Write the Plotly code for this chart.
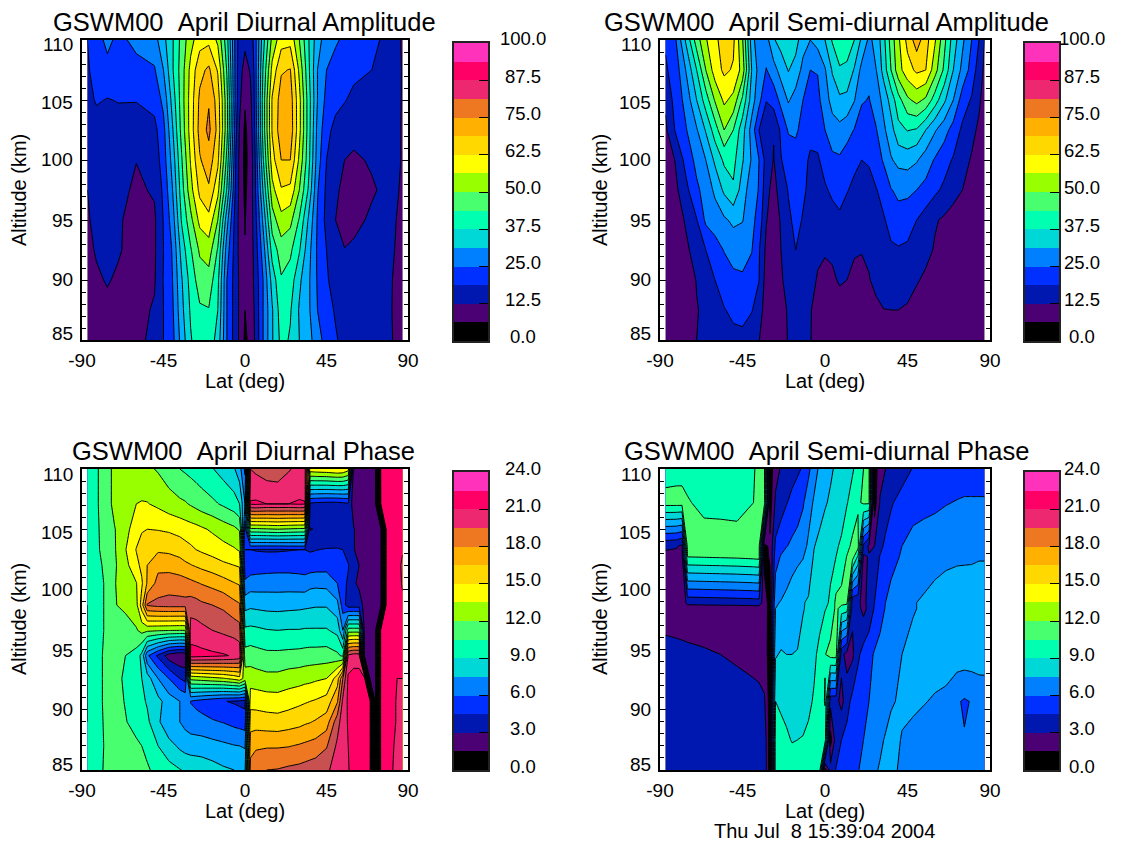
import numpy as np
import plotly.graph_objects as go

# Contour band colours used in the panels (18 bands); the colour bar omits two of them.
BAND_COLORS = ["#000000", "#4b0073", "#0018b0", "#0030ff", "#0080ff", "#00b0ff", "#00d8d8", "#00ffb0", "#48ff70",
               "#98ff00", "#ffff00", "#ffd800", "#ffb000", "#ee7722", "#c85050", "#ee2870", "#ff0066", "#ff33bb"]
BAR_COLORS = ["#000000", "#4b0073", "#0018b0", "#0030ff", "#0080ff", "#00d8d8", "#00ffb0", "#48ff70",
              "#98ff00", "#ffff00", "#ffd800", "#ffb000", "#ee7722", "#ee2870", "#ff0066", "#ff33bb"]
AMP_TICKS = [0.0, 12.5, 25.0, 37.5, 50.0, 62.5, 75.0, 87.5, 100.0]
PHASE_TICKS = [0.0, 3.0, 6.0, 9.0, 12.0, 15.0, 18.0, 21.0, 24.0]
LAT_TICKS = [-90, -45, 0, 45, 90]
LAT_LABELS = ["-90", "-45", "0", "45", "90"]
ALT_TICKS = [85, 90, 95, 100, 105, 110]
ALT_LABEL_SHIFT = [6, 0, -1, 0, -3, -5]
# values are read in contour-interval units; one interval is AMP_STEP % or PHASE_STEP hours
AMP_STEP = 100 / 18
PHASE_STEP = 24 / 18

da_lat = [-87,-82,-76,-70,-60,-50,-45,-40,-35,-30,-25,-20,-15,-10,-5,-3,0,3,5,10,15,20,25,30,35,40,45,50,55,60,70,80,87]
da_alt = [85,87.5,90,92.5,95,97.5,100,102.5,105,107.5,110]
da_rows = [
 [1.1,1.2,1.3,1.45,1.75,2.25,3,3.7,5.4,6.9,7.7,7.65,6.6,4,2.4,1.85,.8,1.3,1.9,4,5.9,7.3,6.9,6,5.4,4.4,3.6,3.1,2.7,2.55,2.4,2.15,1.45],
 [1.3,1.5,1.75,1.7,1.7,2.1,3,3.85,5.7,7.15,7.85,7.95,7,4,2.4,1.85,1,1.45,2,4,5.9,7.55,7.1,5.9,5.2,4,3.35,2.9,2.55,2.4,2.3,2.1,1.5],
 [1.6,1.85,2.08,1.85,1.6,1.9,3.05,4,5.9,7.4,8.5,8.6,7.25,4,2.4,1.85,1.05,1.5,2.1,4,6.4,7.9,7.55,6.2,5.2,3.9,3.1,2.65,2.3,2.25,2.25,2.1,1.6],
 [1.75,2.1,2.3,2.1,1.6,1.85,3,4.1,6.4,7.9,9.15,9.5,7.9,4.5,2.4,1.75,1.05,1.6,2.15,4.5,7.4,8.5,8.2,7.1,5.4,3.85,3,2.25,2.02,2.15,2.25,2.15,1.75],
 [1.9,2.25,2.4,2.1,1.7,1.85,3.05,4.5,7.1,8.7,10.3,10.7,9,5.4,2.4,1.75,.95,1.6,2.25,5.2,8.5,9.65,9.3,7.9,5.9,3.9,2.7,2,1.75,1.75,2.15,2.15,1.85],
 [2,2.3,2.4,2.25,1.85,2.1,3.2,5,7.55,9.65,11.25,11.85,10.3,6.9,2.7,1.75,.8,1.5,2.4,6.1,9.65,10.9,10.75,9,6.9,4.1,2.8,2.1,1.85,1.7,1.9,2.25,1.9],
 [2.1,2.3,2.5,2.3,2.02,2.4,3.5,5.4,7.9,10.1,11.9,12.55,11.25,7.7,2.9,1.75,.7,1.45,2.4,6.9,10.6,12,12,9.8,7.4,4.5,3,2.4,2,1.85,2.1,2.3,1.95],
 [2.15,2.55,2.8,2.55,2.4,2.7,3.7,5.9,8.35,10.45,12.35,13.25,11.7,8.35,3.2,1.9,.8,1.5,2.7,7.4,11.1,12.6,12.6,10.3,7.55,4.7,3.3,2.7,2.5,2.3,2.2,2.3,1.95],
 [2.7,3.1,2.95,3.05,3.05,3.35,4.25,6.4,8.5,10.45,12.2,12.9,11.55,8.35,3.5,2.25,1.1,1.75,2.9,7.4,11.1,12.45,12.5,10.3,7.55,5,3.7,3.3,3.05,2.8,2.5,2.4,1.95],
 [2.9,3.35,3.7,3.6,3.7,3.9,5,6.9,8.5,10.3,11.7,12.2,10.9,7.9,3.5,2.4,1.6,2.1,3.05,7.1,10.3,11.9,12.05,9.8,7.25,5,4,3.7,3.45,3.2,3,2.5,1.95],
 [3,3.6,4.25,3.75,4.25,4.6,5.7,6.9,8.35,9.65,10.6,10.75,9.8,7.4,3.5,2.55,2.25,2.5,3.2,6.6,9.3,10.6,10.7,9,7.1,5.4,4.5,4.1,3.85,3.6,3.35,2.55,1.9],
]

sa_lat = [-87,-82,-76,-70,-65,-60,-55,-50,-45,-40,-36,-32,-28,-24,-20,-16,-12,-8,-4,0,4,8,12,16,20,24,28,32,36,40,45,50,55,60,65,70,75,80,84,87]
sa_alt = [85,87.5,90,92.5,95,97.5,100,102.5,105,107.5,110]
sa_rows = [
 [1.1,1.25,1.5,2,2.1,2.35,2.55,2.75,2.8,2.5,2.05,1.2,1.15,1.4,2.1,2.25,2.2,2.05,1.55,1.2,1.2,1.25,1.2,1.2,1.25,1.35,1.5,1.6,1.6,1.6,1.5,1.4,1.3,1.2,1.15,1.1,1.1,1.1,1.05,1.05],
 [1.15,1.3,1.6,1.95,2.2,2.6,2.95,3.2,3.25,3.05,2.6,1.35,1.2,1.5,2.15,2.4,2.25,2.05,1.7,1.4,1.45,1.6,1.5,1.4,1.4,1.55,1.8,1.98,2,2,1.85,1.55,1.35,1.25,1.15,1.1,1.1,1.1,1.05,1.05],
 [1.2,1.35,1.45,2.05,2.45,3,3.45,3.75,3.85,3.55,3.02,1.55,1.25,1.9,2.3,2.65,2.45,2.2,1.95,1.7,1.85,2.1,2,1.75,1.7,1.95,2.25,2.5,2.65,2.65,2.5,2.1,1.8,1.55,1.4,1.25,1.15,1.1,1.05,1.05],
 [1.2,1.35,1.8,2.4,3,3.55,4.05,4.4,4.4,4.05,3.1,1.75,1.3,2,2.5,3,2.7,2.3,2.1,2.1,2.15,2.2,2.15,2.1,2.05,2.15,2.35,2.6,2.85,2.9,2.8,2.55,2.3,1.9,1.7,1.45,1.3,1.15,1.1,1.05],
 [1.25,1.45,2.1,2.95,4.2,4.5,4.85,5.2,5.05,4.3,3.6,2.05,1.5,2.1,2.85,3.2,2.95,2.5,2.4,2.5,2.7,2.8,2.6,2.4,2.3,2.4,2.6,2.9,3.35,3.65,3.5,3,2.5,2.1,1.85,1.6,1.45,1.3,1.15,1.1],
 [1.3,1.7,2.7,3.8,4.4,5.2,6.2,6.85,5.5,4.4,3.95,2.3,1.65,2.45,3.05,3.4,3.1,2.85,2.75,2.9,3.15,3.4,3.05,2.8,2.6,2.65,2.95,3.4,3.95,4.2,4.2,4,3.7,3.2,2.8,2.35,2,1.65,1.3,1.1],
 [1.5,2,3.3,4.3,5,6.2,7.2,7.3,6.1,4.9,4,2.6,1.95,2.95,3.4,3.6,3.2,2.9,2.9,3.3,3.8,3.85,3.5,3.2,3,3.1,3.6,4.1,4.9,5.3,5.4,5.1,4.5,3.9,3.4,2.9,2.4,1.9,1.5,1.1],
 [1.8,3,3.9,4.9,6.1,7.5,9,8,6.4,4.6,3,2.2,2.05,3.2,4.1,4.15,3.7,3.2,3.3,4,4.5,4.7,4.4,3.95,3.5,3.6,3.95,4.8,5.6,6.7,7.05,6.9,6,5.1,4.4,3.6,2.8,2.3,1.8,1.2],
 [2.2,3.3,4.3,6,7.5,9.1,10.2,9.7,7.8,5.5,4.3,3.05,3.4,4.3,5.1,4.6,4,3.6,3.75,4.5,5.4,5.8,5.7,5.05,4.1,3.95,4.5,5.3,6.4,7.6,8.8,9.3,8.8,7.5,6.2,5,3.5,2.9,2.2,1.5],
 [2.9,3.3,5,7,9,10.5,11.2,10.9,9.6,6,4.6,3.95,4.6,5.4,6.05,5.6,4.7,4,4.05,4.9,6.1,6.9,6.8,5.9,4.7,4.3,5,6.4,8,9.6,10.6,11.2,11,9.4,7.8,6,4.7,3.6,2.5,1.8],
 [3.1,3.7,6.1,8.5,9.9,10.75,11.5,11.2,9.1,5.5,4.2,4.6,5.9,6.4,6.95,6.4,5.4,5,5.4,6,7.1,7.6,7.5,7,5.8,4.8,5.3,6.7,8.4,9.8,11.3,12.5,11.4,10.1,8.3,6.5,5.2,4,3,2],
]

dp_lat = [-87,-84,-78,-72,-66,-60,-57,-54,-48,-42,-36,-33,-30,-27,-24,-18,-12,-6,-3,0,3,6,12,18,24,30,33,36,39,45,51,54,57,60,63,66,69,72,75,78,81,84,87]
dp_alt = [85,87,89,90.7,92.6,94.5,96.6,98.7,100.5,102,103.3,105,107.1,110]
dp_rows = [
 [7.2,7.4,8.05,8.3,8.35,8.3,8.2,8.1,7.75,7.35,7.05,6.9,6.8,6.7,6.6,6.4,6.15,6,5.9,5.8,13.45,13.7,14,14.05,14.2,14.3,14.4,14.5,14.6,14.9,15.25,15.5,15.95,16.3,16.5,16.6,16.6,.9,16.6,16.4,16.1,15.6,15.2],
 [7.2,7.3,8,8.2,8.3,8.15,8,7.8,7,6.4,5.8,5.6,5.5,5.5,5.5,5.35,5.2,5.05,5,4.9,12.55,12.85,12.9,12.9,12.95,13.1,13.2,13.3,13.4,13.9,15.2,15.6,16,16.3,16.5,16.6,16.6,1,16.6,16.4,16.2,15.7,15.3],
 [7,7.3,8.05,8.2,8.05,7.7,7.4,7.2,6.2,5.1,5,4.7,4.5,4.4,4.3,4.1,3.95,3.7,3.6,3.5,11.6,11.55,11.45,11.4,11.55,11.7,11.85,11.95,12.1,12.5,14.6,15.5,16.1,16.4,16.5,16.6,16.6,1.2,16.6,16.5,16.3,15.9,15.5],
 [7,7.3,8.1,8.3,7.95,7.5,7.2,6.9,6.3,5.5,5,4.8,3.95,3.75,3.6,3.3,3.05,2.9,2.8,2.7,10.6,10.6,10.5,10.45,10.6,10.8,10.9,11,11.1,11.4,12.9,15.2,16.2,16.4,16.5,16.6,16.6,1.5,16.6,16.5,16.3,15.9,15.6],
 [7,7.3,8.1,8.4,7.8,7.4,7,6.5,5,4,3,2.7,9.3,9.4,9.5,9.7,9.9,10.3,10.6,9.6,9.55,9.45,9.3,9.3,9.5,9.6,9.7,9.75,9.85,10,11.5,14,16.2,16.4,16.4,16.5,1.7,1.6,16.5,16.5,16.3,16,16],
 [7,7.3,8.1,8.5,8,7.6,6.7,4.2,2.8,1.5,1.1,1.2,16.4,16.35,16.3,16.2,16.1,15.9,15.7,8.4,8.5,8.4,8.25,8.25,8.3,8.35,8.4,8.45,8.45,8.5,8.2,7.8,15.2,15.5,15.5,1.7,1.6,1.6,16.5,16.5,16.3,16.05,16.05],
 [7,7.3,8,8.6,8.6,8.9,9.3,9.2,9.1,9.05,9,9,15.5,15.45,15.3,15,14.8,14.6,14.4,7.2,7.25,7.2,7.05,7,7.05,7.05,7.1,7.1,7.1,7.1,6.7,5,8.5,8.5,8.5,1.7,1.6,1.6,16.5,16.5,16.3,16.05,16.05],
 [7,7.3,8,8.95,9.2,9.7,11.5,14.1,14.3,14.35,14.35,14.35,14.5,14.4,14.2,14,13.8,13.3,13.1,5.65,5.8,5.75,5.67,5.65,5.7,5.75,5.8,5.85,5.9,5.9,5.3,3.5,2.5,2.5,2.5,1.7,1.6,1.6,1.5,16.5,16.4,16.1,16.1],
 [7.2,7.4,8,8.95,9.45,9.95,10.85,12.1,13.4,13.6,13.5,13.4,13.25,13.1,12.95,12.7,12.4,12.05,11.9,4.2,4.5,4.5,4.55,4.55,4.55,4.5,4.45,4.7,4.75,4.7,4,3.2,2.9,2.15,1.8,1.6,1.6,1.6,1.5,16.5,16.4,16.2,15.95],
 [7.2,7.5,8.1,8.85,9.7,10.7,11.25,12,12.7,12.6,12.4,12.2,12.05,11.9,11.75,11.5,11.2,11,10.9,3.3,3.4,3.5,3.55,3.6,3.6,3.55,3.5,3.5,3.55,3.6,3.5,3.4,3.05,2.45,2,1.65,1.6,1.55,1.5,16.4,16.4,16.2,15.9],
 [7.3,7.6,8.25,8.9,9.95,11.05,11.45,11.7,11.85,11.8,11.6,11.4,11.2,11,10.85,10.6,10.35,10.1,9.9,3,3,2.95,2.9,2.9,2.95,3,3,2.9,2.97,3.05,3.05,3,2.65,2.05,1.7,1.6,1.6,1.55,1.5,16.4,16.4,16.2,16.05],
 [7.4,7.6,8.3,8.95,9.7,10.5,10.9,11,10.95,10.85,10.65,10.5,10.4,10.3,10.15,9.85,9.5,9.2,8.9,3.5,8.8,8.8,8.9,9,8.9,8.8,8.8,1.95,2.05,2.25,2.4,2.3,2.15,2.05,1.7,1.6,1.6,1.55,1.5,16.4,16.4,16.2,16.05],
 [7.4,7.7,8.3,9.3,9.75,10,10.05,10.05,9.8,9.45,9.2,9.1,8.9,8.7,8.5,8.2,7.85,7.45,7,5,16.1,16.15,16,16,16,16.1,16.05,2.8,2.7,2.6,2.6,2.7,2.85,1.5,1.5,1.5,1.5,1.5,16,16.3,16.4,16.2,16.05],
 [7.4,7.7,8.3,9.3,9.5,9.6,9.5,9.2,8.9,8.45,8,7.85,7.7,7.55,7.4,7.05,6.6,6.1,5.4,3.8,15,14.8,14.5,14.4,14.9,15.3,15.4,10.6,10.7,10.8,11,10.9,10.4,1.5,1.5,1.5,1.5,1.5,16.3,16.4,16.4,16.2,16.05],
]

sp_lat = [-87,-81,-78,-75,-66,-57,-48,-39,-36,-33,-30,-27,-24,-21,-18,-15,-12,-9,-6,-3,0,3,6,9,12,15,18,21,24,27,30,33,36,42,48,54,60,66,72,76,80,84,87]
sp_alt = [85,87.5,90.7,94.6,98.4,98.9,102.7,103.6,107.2,110]
sp_rows = [
 [2.75,2.75,2.75,2.75,2.75,2.75,2.75,2.75,2.8,2.8,.4,7.5,7.5,7.5,7.45,7.4,7.4,7.4,7.5,7.6,.5,2.4,3.05,3.25,3.45,3.7,3.95,4.25,4.5,4.85,5.1,5.3,5.2,4.85,4.6,4.4,4.3,4.25,4.2,4.2,4.2,4.2,4.2],
 [2.7,2.7,2.7,2.7,2.7,2.7,2.7,2.7,2.7,2.7,.4,7.4,7.3,7.15,6.95,7,7.05,7.2,7.35,7.5,7.6,.6,2.5,3,3.35,3.6,3.8,4,4.2,4.5,4.8,5.1,5.3,4.95,4.7,4.55,4.4,4.3,4.15,4.05,4.15,4.25,4.3],
 [2.55,2.55,2.55,2.5,2.5,2.5,2.45,2.35,2.3,2.1,.5,7,6.85,6.7,6.6,6.55,6.6,6.8,7.1,7.6,8.05,2.3,2.3,1.7,2.6,3.3,3.65,3.85,4,4.15,4.35,4.55,4.9,5.15,5.2,5.05,4.9,4.75,4.1,3.9,4.05,4.35,4.5],
 [2.4,2.3,2.25,2.2,2.1,2,1.85,1.65,1.55,1.5,.5,5.9,6.1,6,6,6.05,6.3,6.6,6.8,7.25,7.95,8.4,8.45,2.3,1.6,1.8,2.8,3.4,3.7,4.1,4.3,4.5,4.7,5,5.2,5.35,5.45,5.5,5.55,5.55,5.55,5.5,5.4],
 [1.45,1.45,1.45,1.45,1.45,1.45,1.45,1.5,1.5,1.45,.6,5,5.15,5.25,5.45,5.6,5.95,6.15,6.45,6.65,6.95,7.2,8.25,7.6,7.4,2.2,2.3,1.7,2.3,3.1,3.65,4.05,4.35,4.75,4.95,5.1,5.25,5.35,5.4,5.45,5.5,5.5,5.5],
 [1.4,1.35,1.3,2.3,2.35,2.4,2.45,2.5,2.55,1.45,.6,4.9,5.05,5.2,5.4,5.55,5.95,6.1,6.4,6.6,6.85,7.1,8.25,8.3,8.2,2.2,2.2,1.7,2.4,3,3.6,4,4.3,4.7,4.95,5.1,5.25,5.35,5.4,5.45,5.5,5.5,5.5],
 [1.7,1.65,1.6,8,8.05,8.1,8.15,8.25,8.3,.7,1.1,3.5,4.1,4.5,4.7,4.85,4.95,5.4,6.1,6.4,6.6,6.85,7,7.5,8.05,8.4,6.8,1.75,2.1,2.5,3.05,3.4,3.7,4.1,4.45,4.6,4.75,4.85,4.9,4.9,4.9,4.95,4.95],
 [2.2,2.1,1.8,8.3,8.55,8.65,8.6,8.4,8.3,.7,1.2,3.2,3.6,3.95,4.2,4.4,4.6,5.2,5.95,6.3,6.55,6.75,6.92,7.1,7.75,8.2,8.4,2.8,1.8,2,2.75,3.2,3.45,4,4.35,4.5,4.6,4.7,4.75,4.8,4.8,4.8,4.85],
 [8.4,8.4,8.4,8.1,7.7,7.6,7.55,8,8.3,8.2,.5,2.2,2.6,2.95,3.25,3.5,3.9,4.5,5.15,5.5,5.9,6.15,6.4,6.7,6.95,7.4,7.85,8.15,8.15,.5,2.1,2.5,2.9,3.35,3.6,3.7,3.8,3.95,4.05,4.1,4.1,4.1,4.1],
 [7.5,7.6,7.6,7.6,7.7,7.7,7.7,7.9,8.3,8,.5,1.6,2.1,2.4,2.65,2.85,3.1,3.8,4.5,5.2,5.6,5.85,6.15,6.45,6.65,6.9,7.35,8,8.2,.5,1.6,2,2.2,2.6,3.05,3.3,3.4,3.5,3.5,3.55,3.55,3.55,3.55],
]

PANELS = [
    dict(name="GSWM00\u00a0\u00a0April Diurnal Amplitude", lat=da_lat, alt=da_alt, rows=da_rows, step=AMP_STEP, ticks=AMP_TICKS, fmax=100.0),
    dict(name="GSWM00\u00a0\u00a0April Semi-diurnal Amplitude", lat=sa_lat, alt=sa_alt, rows=sa_rows, step=AMP_STEP, ticks=AMP_TICKS, fmax=100.0),
    dict(name="GSWM00\u00a0\u00a0April Diurnal Phase", lat=dp_lat, alt=dp_alt, rows=dp_rows, step=PHASE_STEP, ticks=PHASE_TICKS, fmax=24.0),
    dict(name="GSWM00\u00a0\u00a0April Semi-diurnal Phase", lat=sp_lat, alt=sp_alt, rows=sp_rows, step=PHASE_STEP, ticks=PHASE_TICKS, fmax=24.0),
]
W, H = 1125, 843
PLOT_X = [(82, 408), (660, 990), (82, 408), (660, 990)]
PLOT_Y = [(40, 340), (40, 340), (469, 770), (469, 770)]
BAR_X = [(454, 488), (1025, 1059), (454, 488), (1025, 1059)]
BAR_Y = [(43, 341), (43, 341), (472, 770), (472, 770)]
LABEL_X = [523, 1082, 523, 1082]
TITLE_X = [245, 826, 243, 826]
YLABEL_X = [75, 653, 75, 653]
YTITLE_X = [19, 600, 19, 600]
FONT = "Liberation Sans"

def dom_x(p): return [p[0] / W, p[1] / W]
def dom_y(p): return [1 - p[1] / H, 1 - p[0] / H]

fig = go.Figure()
layout = dict(width=W, height=H, margin=dict(l=0, r=0, t=0, b=0, autoexpand=False), paper_bgcolor="white", plot_bgcolor="white",
              showlegend=False, font=dict(family=FONT, size=19, color="black"), annotations=[])
n = len(BAND_COLORS)
cscale = [[i / (n - 1), c] for i, c in enumerate(BAND_COLORS)]
for i, p in enumerate(PANELS):
    k = 2 * i + 1
    xa, ya = f"x{k}", f"y{k}"
    fig.add_trace(go.Contour(x=p["lat"], y=p["alt"], z=(np.array(p["rows"]) * p["step"]).tolist(), xaxis=xa, yaxis=ya,
                             zmin=0, zmax=p["fmax"], colorscale=cscale, showscale=False,
                             contours=dict(start=p["step"], end=17 * p["step"], size=p["step"], coloring="fill"),
                             line=dict(color="black", width=1, smoothing=0)))
    layout[f"xaxis{k}"] = dict(domain=dom_x(PLOT_X[i]), range=[-90, 90], tickvals=LAT_TICKS, ticktext=LAT_LABELS, ticks="inside", ticklen=9,
                               tickcolor="black", showline=True, linewidth=1.5, linecolor="black", mirror=True, showgrid=False, zeroline=False,
                               anchor=ya, layer="below traces", automargin=False,
                               tickfont=dict(size=19), ticklabelstandoff=2)
    layout[f"yaxis{k}"] = dict(domain=dom_y(PLOT_Y[i]), range=[85, 110], tickvals=ALT_TICKS, ticks="inside", ticklen=9,
                               tickcolor="black", showline=True, linewidth=1.5, linecolor="black", mirror="ticks", showgrid=False, zeroline=False,
                               anchor=xa, layer="below traces", automargin=False, showticklabels=False,
                               minor=dict(dtick=1, ticks="inside", ticklen=4, tickcolor="black"))
    for a, shift in zip(ALT_TICKS, ALT_LABEL_SHIFT):
        layout["annotations"].append(dict(xref="paper", yref=ya, x=YLABEL_X[i] / W, y=a, text=str(a), showarrow=False,
                                          xanchor="right", yanchor="middle", yshift=shift, font=dict(size=19)))
    layout["annotations"].append(dict(xref="paper", yref="paper", x=(PLOT_X[i][0] + PLOT_X[i][1]) / 2 / W, y=1 - (PLOT_Y[i][1] + 41) / H,
                                      text="Lat (deg)", showarrow=False, xanchor="center", yanchor="middle", font=dict(size=20)))
    layout["annotations"].append(dict(xref="paper", yref="paper", x=YTITLE_X[i] / W, y=1 - (PLOT_Y[i][0] + 150) / H,
                                      text="Altitude (km)", textangle=-90, showarrow=False, xanchor="center", yanchor="middle", font=dict(size=20)))
    # colour bar
    kb = 2 * i + 2
    m = len(BAR_COLORS)
    edges = np.linspace(0, p["fmax"], m + 1)
    centers = ((edges[:-1] + edges[1:]) / 2).tolist()
    scale = []
    for j, c in enumerate(BAR_COLORS):
        scale += [[j / m, c], [(j + 1) / m, c]]
    fig.add_trace(go.Heatmap(x=[0], y=centers, z=[[v] for v in centers], zmin=0, zmax=p["fmax"], colorscale=scale,
                             showscale=False, xaxis=f"x{kb}", yaxis=f"y{kb}", hoverinfo="skip"))
    layout[f"xaxis{kb}"] = dict(domain=dom_x(BAR_X[i]), range=[-0.5, 0.5], showticklabels=False, ticks="", showline=True, linewidth=1.5,
                                linecolor="#222222", mirror=True, showgrid=False, zeroline=False, anchor=f"y{kb}", automargin=False)
    layout[f"yaxis{kb}"] = dict(domain=dom_y(BAR_Y[i]), range=[0, p["fmax"]], tickvals=p["ticks"], ticks="inside", ticklen=9,
                                tickcolor="black", side="right", showticklabels=False, showline=True, linewidth=1.5, linecolor="#222222", mirror=True,
                                showgrid=False, zeroline=False, anchor=f"x{kb}", layer="above traces", automargin=False)
    for t in p["ticks"]:
        layout["annotations"].append(dict(xref="paper", yref=f"y{kb}", x=LABEL_X[i] / W, y=t, text=f"{t:.1f}", showarrow=False,
                                          xanchor="center", yanchor="middle", yshift=4, font=dict(size=18.5)))
    layout["annotations"].append(dict(xref="paper", yref="paper", x=TITLE_X[i] / W, y=1 - (PLOT_Y[i][0] - 18) / H, text=p["name"],
                                      showarrow=False, xanchor="center", yanchor="middle", font=dict(size=25.5)))
layout["annotations"].append(dict(xref="paper", yref="paper", x=825 / W, y=1 - 831 / H, text="Thu Jul\u00a0\u00a08 15:39:04 2004",
                                  showarrow=False, xanchor="center", yanchor="middle", font=dict(size=20)))
fig.update_layout(**layout)
fig.write_html("out.html", post_script="document.body.style.margin='0';", config={"displayModeBar": False})
